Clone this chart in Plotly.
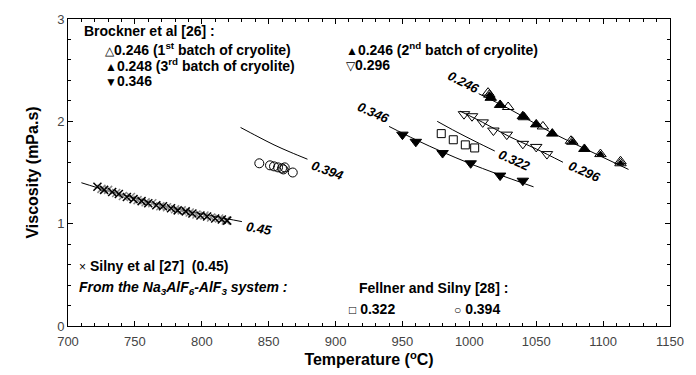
import plotly.graph_objects as go

# ---------------- data ----------------
# Silny et al [27] (0.45) crosses (two shades)
silny_t_black = [722, 727, 733, 738, 744, 749, 755, 760, 766, 771, 777, 782, 788, 793, 799, 804, 810, 815, 819]
silny_v_black = [1.36, 1.33, 1.31, 1.29, 1.26, 1.24, 1.22, 1.20, 1.18, 1.17, 1.15, 1.13, 1.12, 1.10, 1.08, 1.07, 1.05, 1.04, 1.03]
silny_t_gray = [725, 730, 736, 741, 747, 752, 758, 763, 769, 774, 780, 785, 791, 796, 802, 807, 813, 818]
silny_v_gray = [1.34, 1.33, 1.30, 1.27, 1.26, 1.23, 1.21, 1.20, 1.17, 1.16, 1.14, 1.13, 1.11, 1.09, 1.08, 1.06, 1.05, 1.03]

# Fellner and Silny [28]
fs322_t = [979, 988, 997, 1004]
fs322_v = [1.88, 1.82, 1.77, 1.74]
fs394_t = [843, 851, 854, 857, 860, 861, 862, 868]
fs394_v = [1.59, 1.57, 1.56, 1.55, 1.54, 1.53, 1.55, 1.50]

# Brockner et al [26]
b246a_t = [1014, 1029, 1055, 1076, 1113]          # 1st batch (open up)
b246a_v = [2.28, 2.14, 1.95, 1.81, 1.61]
b246b_t = [1016, 1023, 1040, 1050, 1062, 1086]    # 2nd batch (filled up)
b246b_v = [2.23, 2.16, 2.05, 1.97, 1.88, 1.73]
b248_t = [1015, 1041, 1077, 1098, 1113]           # 3rd batch (half)
b248_v = [2.26, 2.04, 1.80, 1.68, 1.59]
b296_t = [996, 1002, 1010, 1018, 1028, 1040, 1050, 1058]
b296_v = [2.07, 2.05, 1.99, 1.91, 1.87, 1.78, 1.75, 1.68]
b346_t = [950, 960, 980, 1001, 1023, 1040]
b346_v = [1.87, 1.80, 1.69, 1.59, 1.47, 1.42]

# model curves
c45_t = [710, 730, 750, 770, 790, 810, 830]
c45_v = [1.40, 1.32, 1.25, 1.18, 1.12, 1.07, 1.02]
c394_t = [829, 842, 854, 866, 879]
c394_v = [1.94, 1.85, 1.77, 1.70, 1.63]
c346_t = [940, 960, 980, 1000, 1020, 1048]
c346_v = [1.95, 1.82, 1.70, 1.59, 1.49, 1.36]
c322_t = [976, 990, 1005, 1019]
c322_v = [2.00, 1.90, 1.80, 1.71]
c296_t = [993, 1010, 1030, 1050, 1070]
c296_v = [2.10, 1.99, 1.85, 1.73, 1.60]
c246_t = [1007, 1030, 1060, 1090, 1119]
c246_v = [2.27, 2.12, 1.90, 1.71, 1.53]

# curve labels: text, x, y, angle
curve_labels = [
    ("0.45", 843, 0.95, 10),
    ("0.394", 894, 1.52, 20),
    ("0.346", 928, 2.09, 24),
    ("0.322", 1034, 1.62, 24),
    ("0.296", 1086, 1.51, 24),
    ("0.246", 996, 2.38, 27),
]

x_ticks = [700, 750, 800, 850, 900, 950, 1000, 1050, 1100, 1150]
y_ticks = [0, 1, 2, 3]

# ---------------- figure ----------------
fig = go.Figure()

for t, v in [(c45_t, c45_v), (c394_t, c394_v), (c346_t, c346_v), (c322_t, c322_v),
             (c296_t, c296_v), (c246_t, c246_v)]:
    fig.add_trace(go.Scatter(x=t, y=v, mode="lines", line=dict(color="black", width=1, shape="spline"),
                             showlegend=False, hoverinfo="skip"))

def pts(t, v, symbol, size, color="black", lw=1):
    fig.add_trace(go.Scatter(x=t, y=v, mode="markers", showlegend=False,
                             marker=dict(symbol=symbol, size=size, color=color,
                                         line=dict(color=color, width=lw))))

pts(silny_t_gray, silny_v_gray, "x-thin", 8, "#888888", 1.5)
pts(silny_t_black, silny_v_black, "x-thin", 8, "black", 1.5)
pts(fs322_t, fs322_v, "square-open", 8)
pts(fs394_t, fs394_v, "circle-open", 9)
pts(b246a_t, b246a_v, "triangle-up-open", 10)
pts(b246b_t, b246b_v, "triangle-up", 10)
pts(b248_t, b248_v, "triangle-up-open", 10)
pts(b248_t, b248_v, "triangle-up", 6)
pts(b296_t, b296_v, "triangle-down-open", 10)
pts(b346_t, b346_v, "triangle-down", 10)

ann = []
for txt, x, y, ang in curve_labels:
    ann.append(dict(x=x, y=y, xref="x", yref="y", text="<b><i>" + txt + "</i></b>",
                    showarrow=False, textangle=ang,
                    font=dict(family="Liberation Sans, Arial", size=13, color="black")))


def sym(ch):
    return '<span style="font-size:12px">' + ch + '</span>'


legend_txt = [
    ("<b>Brockner et al [26] :</b>", 710.3, 2.885),
    (sym("△") + "<b>0.246 (1<sup>st</sup> batch of cryolite)</b>", 725.9, 2.71),
    (sym("▲") + "<b>0.248 (3<sup>rd</sup> batch of cryolite)</b>", 725.9, 2.55),
    (sym("▼") + "<b>0.346</b>", 725.9, 2.39),
    (sym("▲") + "<b>0.246 (2<sup>nd</sup> batch of cryolite)</b>", 906, 2.71),
    (sym("▽") + "<b>0.296</b>", 906, 2.55),
    (sym("×") + "<b> Silny et al [27]  (0.45)</b>", 706.7, 0.585),
    ("<b><i>From the Na<sub>3</sub>AlF<sub>6</sub>-AlF<sub>3</sub> system :</i></b>", 706.7, 0.374),
    ("<b>Fellner and Silny [28] :</b>", 915.8, 0.374),
    (sym("□") + "<b> 0.322</b>", 908.4, 0.163),
    (sym("○") + "<b> 0.394</b>", 986.7, 0.163),
]
for txt, x, y in legend_txt:
    ann.append(dict(x=x, y=y, xref="x", yref="y", text=txt, showarrow=False,
                    xanchor="left", yanchor="middle",
                    font=dict(family="Liberation Sans, Arial", size=14, color="black")))

axis_common = dict(showline=True, linecolor="black", linewidth=1, mirror="allticks",
                   ticks="inside", tickcolor="black", showgrid=False, zeroline=False,
                   tickfont=dict(family="Liberation Sans, Arial", size=13, color="#444"))

fig.update_layout(
    width=696, height=375,
    margin=dict(l=68, r=19, t=13, b=49),
    plot_bgcolor="white", paper_bgcolor="white",
    showlegend=False,
    annotations=ann,
    xaxis=dict(range=[700, 1150], tickvals=x_ticks, ticklen=5, ticklabelstandoff=3,
               minor=dict(dtick=10, tick0=700, ticks="inside", ticklen=3, tickcolor="black"),
               title=dict(text="<b>Temperature (<sup>o</sup>C)</b>", standoff=2,
                          font=dict(family="Liberation Sans, Arial", size=16, color="black")),
               **axis_common),
    yaxis=dict(range=[0, 3], tickvals=y_ticks, ticklen=5,
               minor=dict(dtick=0.2, tick0=0, ticks="inside", ticklen=3, tickcolor="black"),
               title=dict(text="<b>Viscosity (mPa.s)</b>", standoff=14,
                          font=dict(family="Liberation Sans, Arial", size=16, color="black")),
               **axis_common),
)

fig.write_html("out.html")
